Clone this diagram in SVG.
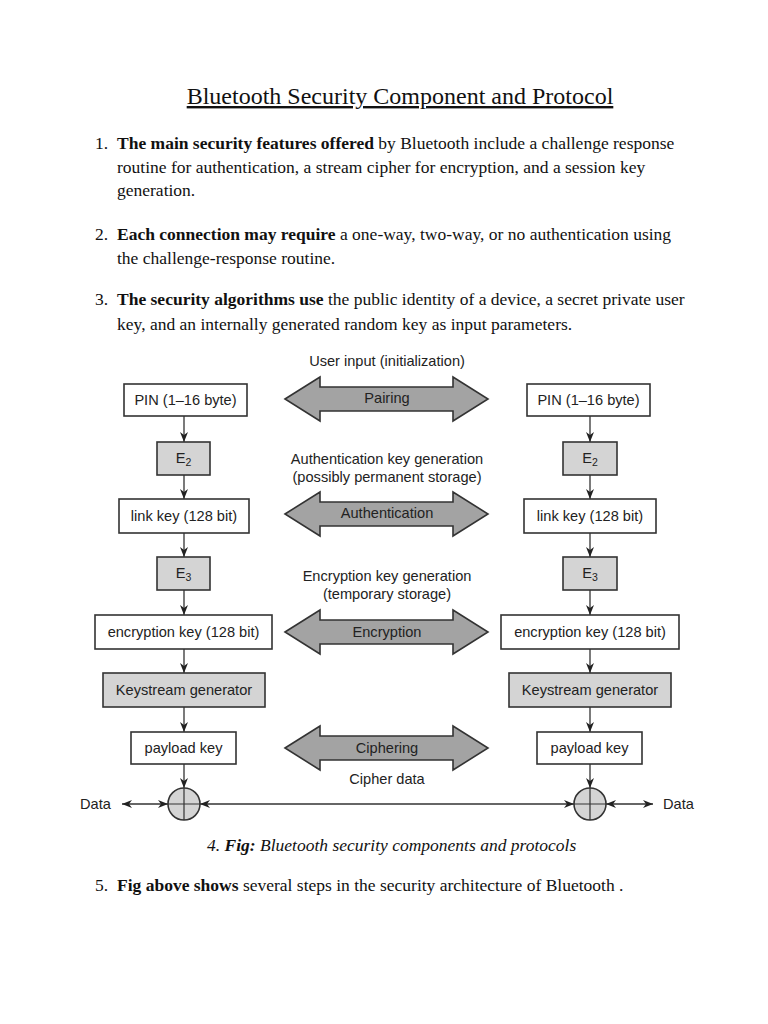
<svg xmlns="http://www.w3.org/2000/svg" width="768" height="1024" viewBox="0 0 768 1024">
<defs>
<style>
.serif{font-family:"Liberation Serif","Times New Roman",serif;fill:#111}
.body{font-size:17.5px}
.b{font-weight:bold}
.sans{font-family:"Liberation Sans",Arial,sans-serif;font-size:14.6px;fill:#222}
.box{fill:#fff;stroke:#333;stroke-width:1.6}
.gbox{fill:#d4d4d4;stroke:#333;stroke-width:1.6}
.big{fill:#a3a3a3;stroke:#333;stroke-width:1.6}
.con{stroke:#333;stroke-width:1.3;fill:none}
</style>
<marker id="ah" viewBox="0 0 10 10" refX="10" refY="5" markerWidth="10" markerHeight="10" markerUnits="userSpaceOnUse" orient="auto-start-reverse">
<path d="M0,1 L10,5 L0,9 L3,5 Z" fill="#222"/>
</marker>
</defs>
<rect width="768" height="1024" fill="#fff"/>

<g id="title">
<text class="serif" x="400" y="104" font-size="24" text-anchor="middle" text-decoration="underline">Bluetooth Security Component and Protocol</text>
</g>

<g id="text-items" class="serif body">
<text x="95" y="149">1.</text>
<text x="117" y="149"><tspan class="b">The main security features offered</tspan> by Bluetooth include a challenge response</text>
<text x="117" y="173">routine for authentication, a stream cipher for encryption, and a session key</text>
<text x="117" y="196">generation.</text>
<text x="95" y="240">2.</text>
<text x="117" y="240"><tspan class="b">Each connection may require</tspan> a one-way, two-way, or no authentication using</text>
<text x="117" y="264">the challenge-response routine.</text>
<text x="95" y="305">3.</text>
<text x="117" y="305"><tspan class="b">The security algorithms use</tspan> the public identity of a device, a secret private user</text>
<text x="117" y="330">key, and an internally generated random key as input parameters.</text>
</g>

<g id="connectors">
<line class="con" x1="184" y1="416" x2="184" y2="442" marker-end="url(#ah)"/>
<line class="con" x1="184" y1="475" x2="184" y2="499" marker-end="url(#ah)"/>
<line class="con" x1="184" y1="533" x2="184" y2="557" marker-end="url(#ah)"/>
<line class="con" x1="184" y1="590" x2="184" y2="615" marker-end="url(#ah)"/>
<line class="con" x1="184" y1="649" x2="184" y2="673" marker-end="url(#ah)"/>
<line class="con" x1="184" y1="707" x2="184" y2="732" marker-end="url(#ah)"/>
<line class="con" x1="184" y1="764" x2="184" y2="788" marker-end="url(#ah)"/>
<line class="con" x1="590" y1="416" x2="590" y2="442" marker-end="url(#ah)"/>
<line class="con" x1="590" y1="475" x2="590" y2="499" marker-end="url(#ah)"/>
<line class="con" x1="590" y1="533" x2="590" y2="557" marker-end="url(#ah)"/>
<line class="con" x1="590" y1="590" x2="590" y2="615" marker-end="url(#ah)"/>
<line class="con" x1="590" y1="649" x2="590" y2="673" marker-end="url(#ah)"/>
<line class="con" x1="590" y1="707" x2="590" y2="732" marker-end="url(#ah)"/>
<line class="con" x1="590" y1="764" x2="590" y2="788" marker-end="url(#ah)"/>
<line class="con" x1="200" y1="804" x2="574" y2="804" marker-start="url(#ah)" marker-end="url(#ah)"/>
<line class="con" x1="122" y1="804" x2="168" y2="804" marker-start="url(#ah)" marker-end="url(#ah)"/>
<line class="con" x1="606" y1="804" x2="653" y2="804" marker-start="url(#ah)" marker-end="url(#ah)"/>
</g>

<g id="left-pin"><rect class="box" x="124" y="384" width="123" height="32"/><text class="sans" x="185.5" y="405" text-anchor="middle">PIN (1–16 byte)</text></g>
<g id="left-e2"><rect class="gbox" x="157" y="442" width="53" height="33"/><text class="sans" x="183.5" y="463" text-anchor="middle">E<tspan font-size="10.5" dy="3">2</tspan></text></g>
<g id="left-link"><rect class="box" x="119" y="499" width="130" height="34"/><text class="sans" x="184" y="521" text-anchor="middle">link key (128 bit)</text></g>
<g id="left-e3"><rect class="gbox" x="157" y="557" width="53" height="33"/><text class="sans" x="183.5" y="578" text-anchor="middle">E<tspan font-size="10.5" dy="3">3</tspan></text></g>
<g id="left-enc"><rect class="box" x="95" y="615" width="177" height="34"/><text class="sans" x="183.5" y="637" text-anchor="middle">encryption key (128 bit)</text></g>
<g id="left-ks"><rect class="gbox" x="103" y="673" width="162" height="34"/><text class="sans" x="184" y="695" text-anchor="middle">Keystream generator</text></g>
<g id="left-payload"><rect class="box" x="131" y="732" width="105" height="32"/><text class="sans" x="183.5" y="753" text-anchor="middle">payload key</text></g>
<g id="left-xor"><circle cx="184" cy="804" r="16" fill="#d4d4d4" stroke="#333" stroke-width="1.6"/><path d="M168,804 H200 M184,788 V820" stroke="#333" stroke-width="1.2"/></g>
<g id="left-data"><text class="sans" x="80" y="809">Data</text></g>

<g id="right-pin"><rect class="box" x="527" y="384" width="123" height="32"/><text class="sans" x="588.5" y="405" text-anchor="middle">PIN (1–16 byte)</text></g>
<g id="right-e2"><rect class="gbox" x="563" y="442" width="54" height="33"/><text class="sans" x="590" y="463" text-anchor="middle">E<tspan font-size="10.5" dy="3">2</tspan></text></g>
<g id="right-link"><rect class="box" x="524" y="499" width="132" height="34"/><text class="sans" x="590" y="521" text-anchor="middle">link key (128 bit)</text></g>
<g id="right-e3"><rect class="gbox" x="563" y="557" width="54" height="33"/><text class="sans" x="590" y="578" text-anchor="middle">E<tspan font-size="10.5" dy="3">3</tspan></text></g>
<g id="right-enc"><rect class="box" x="501" y="615" width="178" height="34"/><text class="sans" x="590" y="637" text-anchor="middle">encryption key (128 bit)</text></g>
<g id="right-ks"><rect class="gbox" x="509" y="673" width="162" height="34"/><text class="sans" x="590" y="695" text-anchor="middle">Keystream generator</text></g>
<g id="right-payload"><rect class="box" x="537" y="732" width="105" height="32"/><text class="sans" x="589.5" y="753" text-anchor="middle">payload key</text></g>
<g id="right-xor"><circle cx="590" cy="804" r="16" fill="#d4d4d4" stroke="#333" stroke-width="1.6"/><path d="M574,804 H606 M590,788 V820" stroke="#333" stroke-width="1.2"/></g>
<g id="right-data"><text class="sans" x="663" y="809">Data</text></g>

<g id="pairing">
<text class="sans" x="387" y="366" text-anchor="middle">User input (initialization)</text>
<polygon class="big" points="285,399 320,377 320,387 453,387 453,377 488,399 453,421 453,411 320,411 320,421"/>
<text class="sans" x="387" y="403" text-anchor="middle">Pairing</text>
</g>
<g id="authentication">
<text class="sans" x="387" y="464" text-anchor="middle">Authentication key generation</text>
<text class="sans" x="387" y="482" text-anchor="middle">(possibly permanent storage)</text>
<polygon class="big" points="285,514 320,492 320,502 453,502 453,492 488,514 453,536 453,526 320,526 320,536"/>
<text class="sans" x="387" y="518" text-anchor="middle">Authentication</text>
</g>
<g id="encryption">
<text class="sans" x="387" y="581" text-anchor="middle">Encryption key generation</text>
<text class="sans" x="387" y="599" text-anchor="middle">(temporary storage)</text>
<polygon class="big" points="285,632 320,610 320,620 453,620 453,610 488,632 453,654 453,644 320,644 320,654"/>
<text class="sans" x="387" y="637" text-anchor="middle">Encryption</text>
</g>
<g id="ciphering">
<polygon class="big" points="285,748 320,726 320,736 453,736 453,726 488,748 453,770 453,760 320,760 320,770"/>
<text class="sans" x="387" y="753" text-anchor="middle">Ciphering</text>
<text class="sans" x="387" y="784" text-anchor="middle">Cipher data</text>
</g>

<g id="caption" class="serif">
<text x="207" y="851" font-size="17.5" font-style="italic">4.  <tspan font-weight="bold">Fig:</tspan> Bluetooth security components and protocols</text>
</g>
<g id="item5" class="serif body">
<text x="95" y="891">5.</text>
<text x="117" y="891"><tspan class="b">Fig above shows</tspan> several steps in the security architecture of Bluetooth .</text>
</g>
</svg>
